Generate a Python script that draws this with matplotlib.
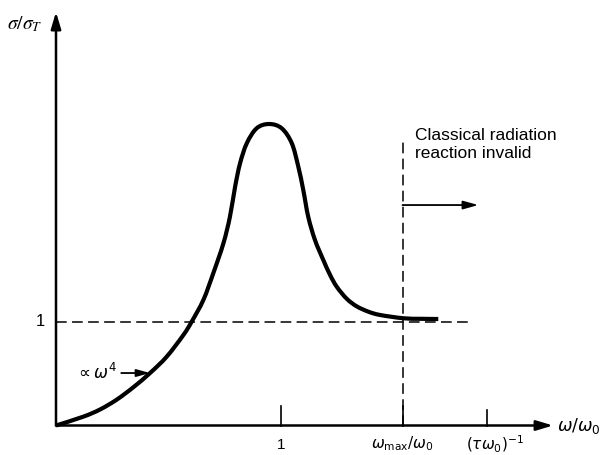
import matplotlib
matplotlib.use("Agg")
import matplotlib.pyplot as plt
from matplotlib.path import Path
from matplotlib.patches import PathPatch

# Data
omega = [0.0, 0.121, 0.196, 0.270, 0.344, 0.418, 0.492, 0.566, 0.603, 0.655, 0.699,
         0.744, 0.773, 0.796, 0.818, 0.848, 0.892, 0.947, 1.003, 1.048, 1.077,
         1.099, 1.121, 1.151, 1.188, 1.218, 1.248, 1.292, 1.336, 1.388, 1.440,
         1.544, 1.620, 1.699]
sigma = [0.0, 0.085, 0.155, 0.250, 0.370, 0.507, 0.665, 0.874, 1.003, 1.213, 1.471,
         1.760, 2.017, 2.307, 2.533, 2.727, 2.872, 2.913, 2.872, 2.727, 2.500,
         2.275, 2.017, 1.792, 1.599, 1.455, 1.340, 1.225, 1.152, 1.100, 1.068,
         1.036, 1.031, 1.029]
x_ticks = [1.0, 1.54, 1.914]
x_tick_labels = ["1", r"$\omega_{\rm max}/\omega_0$", r"$(\tau\omega_0)^{-1}$"]
omega_max = 1.54
unity = 1.0

fig = plt.figure(figsize=(6.1, 4.55), dpi=100)
ax = fig.add_axes([0, 0, 1, 1])
ax.set_xlim(-56 / 225, (610 - 56) / 225)
ax.set_ylim((425.5 - 455) / 103.5, 425.5 / 103.5)
ax.axis("off")

# axes with arrows
arrow_kw = dict(arrowstyle="-|>,head_length=1.0,head_width=0.3", lw=1.8, color="black",
                shrinkA=0, shrinkB=0)
ax.annotate("", xy=(2.209, 0), xytext=(0, 0), arrowprops=arrow_kw)
ax.annotate("", xy=(0, 3.995), xytext=(0, 0), arrowprops=arrow_kw)

# ticks
tick_tops = [0.188, 0.188, 0.15]
for xt, top in zip(x_ticks, tick_tops):
    ax.plot([xt, xt], [0, top], color="black", lw=1.2)

# dashed lines
ax.plot([0, 1.853], [unity, unity], color="black", lw=1.1, dashes=(7, 3.5))
ax.plot([omega_max, omega_max], [0, 2.76], color="black", lw=1.1, dashes=(7, 3.5))

# curve: smooth Bezier path through the read points (Catmull-Rom style control points)
pts = list(zip(omega, sigma))
verts = [pts[0]]
codes = [Path.MOVETO]
n = len(pts)
for i in range(n - 1):
    p0 = pts[i - 1] if i > 0 else pts[i]
    p1 = pts[i]
    p2 = pts[i + 1]
    p3 = pts[i + 2] if i + 2 < n else pts[i + 1]
    c1 = (p1[0] + (p2[0] - p0[0]) / 6, p1[1] + (p2[1] - p0[1]) / 6)
    c2 = (p2[0] - (p3[0] - p1[0]) / 6, p2[1] - (p3[1] - p1[1]) / 6)
    verts += [c1, c2, p2]
    codes += [Path.CURVE4] * 3
ax.add_patch(PathPatch(Path(verts, codes), facecolor="none", edgecolor="black",
                       lw=3.0, capstyle="butt", joinstyle="round"))

# labels
ax.text(-0.05, 1.0, "1", ha="right", va="center", fontsize=12, family="Liberation Sans")
ax.text(1.0, -0.12, x_tick_labels[0], ha="center", va="top", fontsize=11,
        family="Liberation Sans")
ax.text(1.54, -0.085, x_tick_labels[1], ha="center", va="top", fontsize=11)
ax.text(1.95, -0.085, x_tick_labels[2], ha="center", va="top", fontsize=11)
ax.text(2.225, 0.0, r"$\omega/\omega_0$", ha="left", va="center", fontsize=12.5)
ax.text(-0.06, 3.88, r"$\sigma/\sigma_T$", ha="right", va="center", fontsize=14,
        math_fontfamily="stix")

ax.text(1.595, 2.56, "Classical radiation\nreaction invalid", ha="left", va="bottom",
        fontsize=12.5, family="Liberation Sans", linespacing=1.2)
ax.annotate("", xy=(1.877, 2.13), xytext=(omega_max, 2.13),
            arrowprops=dict(arrowstyle="-|>,head_length=0.9,head_width=0.25", lw=1.3,
                            color="black", shrinkA=0, shrinkB=0))

ax.text(0.27, 0.51, r"$\propto\omega^4$", ha="right", va="center", fontsize=12)
ax.annotate("", xy=(0.418, 0.507), xytext=(0.29, 0.507),
            arrowprops=dict(arrowstyle="-|>,head_length=0.8,head_width=0.22", lw=1.3,
                            color="black", shrinkA=0, shrinkB=0))

fig.savefig("out.png", dpi=100)
